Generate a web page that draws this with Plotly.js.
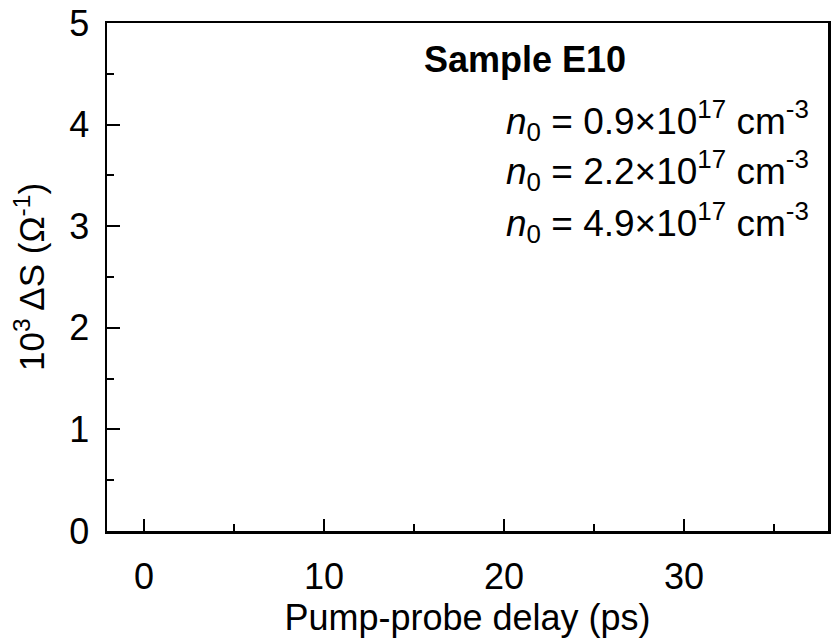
<!DOCTYPE html>
<html>
<head>
<meta charset="utf-8">
<script src="https://cdn.plot.ly/plotly-3.0.1.min.js"></script>
<style>html,body{margin:0;padding:0;background:#fff;}#chart{width:832px;height:638px;}</style>
</head>
<body>
<div id="chart"></div>
<script>
// Data (the reference panel shows no plotted points; series are empty)
const seriesNames = [
  "<i>n</i><sub>0</sub> = 0.9×10<sup>17</sup> cm<sup>-3</sup>",
  "<i>n</i><sub>0</sub> = 2.2×10<sup>17</sup> cm<sup>-3</sup>",
  "<i>n</i><sub>0</sub> = 4.9×10<sup>17</sup> cm<sup>-3</sup>"
];
const sampleLabel = "<b>Sample E10</b>";
const delays = [];          // ps
const deltaS1 = [];         // 10^3 ΔS (Ω^-1)
const deltaS2 = [];
const deltaS3 = [];
const xTickVals = [0, 10, 20, 30];
const yTickVals = [0, 1, 2, 3, 4, 5];

const FONT = "Liberation Sans, Arial, sans-serif";

const traces = [deltaS1, deltaS2, deltaS3].map((ys, i) => ({
  x: delays, y: ys, type: "scatter", mode: "lines+markers",
  name: seriesNames[i], showlegend: false,
  line: {color: "#000"}, marker: {color: "#000"}
}));

const annY = [0.809, 0.709, 0.608];
const annotations = [{
  xref: "paper", yref: "paper", x: 0.58, y: 0.929,
  xanchor: "center", yanchor: "middle", showarrow: false,
  text: sampleLabel, font: {family: FONT, size: 36, color: "#000"}
}].concat(seriesNames.map((t, i) => ({
  xref: "paper", yref: "paper", x: 0.976, y: annY[i],
  xanchor: "right", yanchor: "middle", showarrow: false,
  text: t, font: {family: FONT, size: 37, color: "#000"}
})));

const layout = {
  width: 832, height: 638,
  margin: {l: 107, r: 4, t: 23, b: 107, pad: 0},
  paper_bgcolor: "#fff", plot_bgcolor: "#fff",
  font: {family: FONT, color: "#000"},
  showlegend: false,
  xaxis: {
    range: [-2.05, 38], showgrid: false, zeroline: false,
    showline: true, mirror: true, linecolor: "#000", linewidth: 2.5,
    ticks: "inside", ticklen: 12, tickwidth: 2, tickcolor: "#000",
    tickvals: xTickVals, ticktext: xTickVals.map(String),
    tickfont: {family: FONT, size: 36, color: "#000"},
    ticklabelstandoff: 12,
    minor: {ticks: "inside", ticklen: 7, tickwidth: 2, tickcolor: "#000", dtick: 5, tick0: 0, showgrid: false},
    title: {text: "Pump-probe delay (ps)", font: {family: FONT, size: 36, color: "#000"}, standoff: 6},
    automargin: false, fixedrange: true
  },
  yaxis: {
    range: [0, 5], showgrid: false, zeroline: false,
    showline: true, mirror: true, linecolor: "#000", linewidth: 2.5,
    ticks: "inside", ticklen: 13, tickwidth: 2, tickcolor: "#000",
    tickvals: yTickVals, ticktext: yTickVals.map(String),
    tickfont: {family: FONT, size: 36, color: "#000"},
    ticklabelstandoff: 8,
    minor: {ticks: "inside", ticklen: 7, tickwidth: 2, tickcolor: "#000", dtick: 0.5, tick0: 0, showgrid: false},
    title: {text: "10<sup>3</sup> ΔS (Ω<sup>-1</sup>)", font: {family: FONT, size: 35, color: "#000"}, standoff: 14},
    automargin: false, fixedrange: true
  },
  annotations: annotations
};

Plotly.newPlot("chart", traces, layout, {staticPlot: true, displayModeBar: false});
</script>
</body>
</html>
